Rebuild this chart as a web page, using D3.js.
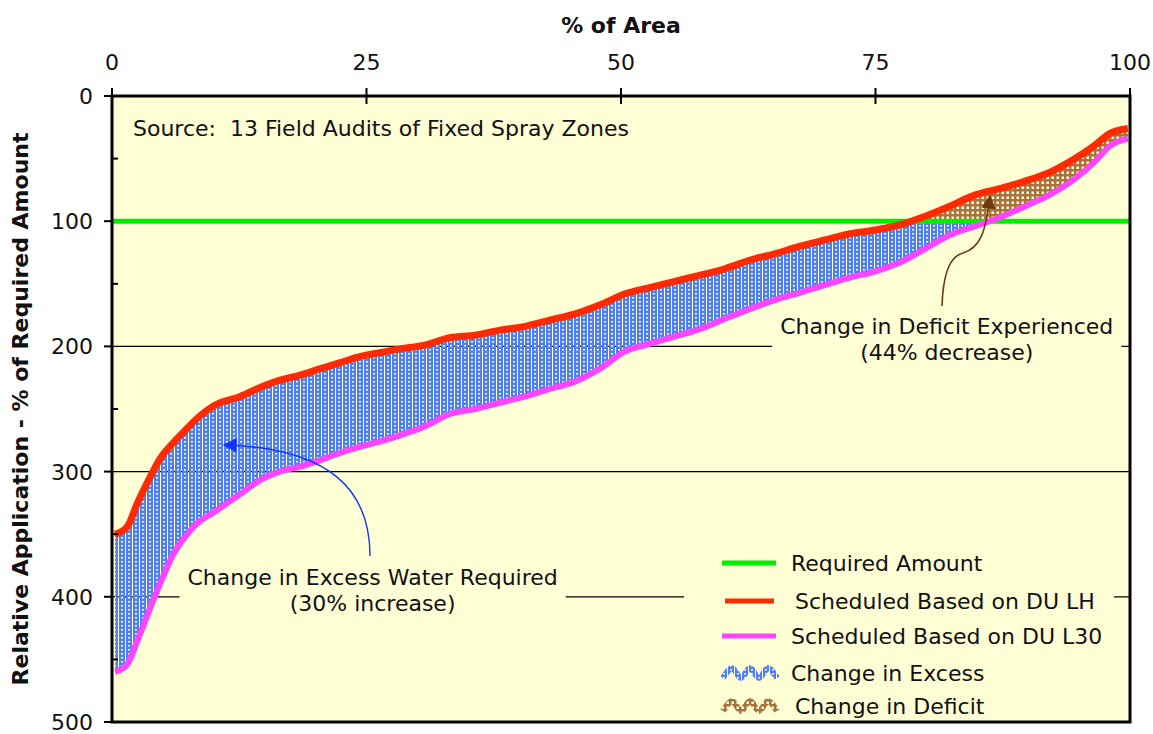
<!DOCTYPE html>
<html>
<head>
<meta charset="utf-8">
<script src="https://cdn.jsdelivr.net/npm/d3@7"></script>
<style>
  body { margin: 0; background: #ffffff; }
  text { font-family: "DejaVu Sans", Verdana, sans-serif; fill: #111; white-space: pre; }
</style>
</head>
<body>
<div id="chart"></div>
<script>
// % of area (x) - shared by both series
var areaPct = [0.3, 1.5, 2.5, 3.7, 4.7, 5.9, 7.2, 8.3, 10.1, 12.6, 14.5, 16.5, 18.5, 20.4, 22.4, 24.4,
  26.3, 28.3, 30.7, 33.2, 35.7, 38.1, 40.6, 43.0, 45.5, 47.9, 50.4, 52.8, 55.3, 57.8, 60.2, 62.7,
  65.1, 67.6, 70.0, 72.5, 75.0, 77.4, 79.9, 82.3, 84.8, 87.2, 89.7, 92.1, 94.6, 96.6, 98.0, 99.8];

// relative application, scheduled on DU LH
var lhValues = [350, 344, 325, 305, 290, 278, 267, 258, 247, 240, 233, 227, 223, 218, 213, 208,
  205, 202, 199, 193, 191, 187, 184, 179, 174, 167, 158, 153, 148, 143, 138, 131,
  126, 120, 115, 110, 107, 103, 96, 88, 79, 74, 68, 61, 50, 39, 30, 26];

// relative application, scheduled on DU L30
var l30Values = [460, 454, 435, 410, 390, 368, 352, 342, 332, 318, 307, 300, 296, 291, 285, 280,
  276, 271, 264, 254, 250, 245, 240, 234, 228, 218, 204, 198, 192, 186, 178, 170,
  163, 157, 151, 145, 140, 133, 122, 111, 104, 97, 88, 79, 66, 52, 40, 34];

var requiredAmount = 100;
var xTicks = [0, 25, 50, 75, 100];
var yTicks = [0, 100, 200, 300, 400, 500];
var yMinorTicks = [50, 150, 250, 350, 450];
var gridValues = [100, 200, 300, 400];
var legendLabels = ['Required Amount', 'Scheduled Based on DU LH', 'Scheduled Based on DU L30',
  'Change in Excess', 'Change in Deficit'];

var W = 1153, H = 734;
var pLeft = 112, pRight = 1130, pTop = 96, pBottom = 722;
var bg = '#ffffd5';
var cRed = '#ff2a00', cMag = '#ff44ff', cGreen = '#00f000';
var cBlue = '#5080f0', cBrown = '#a8743c';
var fontSize = 22;

var svg = d3.select('#chart').append('svg').attr('width', W).attr('height', H);

var x = d3.scaleLinear().domain([0, 100]).range([pLeft, pRight]);
var y = d3.scaleLinear().domain([0, 500]).range([pTop, pBottom]);

var defs = svg.append('defs');

// dotted fills like the excel pattern
var pBlue = defs.append('pattern').attr('id', 'pBlue').attr('patternUnits', 'userSpaceOnUse')
  .attr('width', 7).attr('height', 4);
pBlue.append('rect').attr('width', 6).attr('height', 4).attr('fill', cBlue);
pBlue.append('rect').attr('x', 2).attr('y', 1).attr('width', 2).attr('height', 1.5).attr('fill', '#ffffff');

var pBrown = defs.append('pattern').attr('id', 'pBrown').attr('patternUnits', 'userSpaceOnUse')
  .attr('width', 5).attr('height', 5);
pBrown.append('rect').attr('width', 5).attr('height', 5).attr('fill', cBrown);
pBrown.append('rect').attr('x', 1.5).attr('y', 1.5).attr('width', 2.5).attr('height', 2.5).attr('fill', '#fffbe0');

defs.append('clipPath').attr('id', 'clipExcess').append('rect')
  .attr('x', pLeft).attr('y', y(requiredAmount)).attr('width', pRight - pLeft).attr('height', pBottom - y(requiredAmount));
defs.append('clipPath').attr('id', 'clipDeficit').append('rect')
  .attr('x', pLeft).attr('y', pTop).attr('width', pRight - pLeft).attr('height', y(requiredAmount) - pTop);

function arrowMarker(id, col, w, h) {
  defs.append('marker').attr('id', id).attr('viewBox', '0 0 10 10')
    .attr('refX', 9).attr('refY', 5).attr('markerUnits', 'userSpaceOnUse')
    .attr('markerWidth', w).attr('markerHeight', h).attr('orient', 'auto')
    .append('path').attr('d', 'M0,0 L10,5 L0,10 Z').attr('fill', col);
}
arrowMarker('arrBlue', '#1234ff', 16, 14);
arrowMarker('arrBrown', '#6e3c0c', 16, 14);

// plot background
svg.append('rect').attr('x', pLeft).attr('y', pTop).attr('width', pRight - pLeft).attr('height', pBottom - pTop)
  .attr('fill', bg);

// gridlines
svg.append('g').selectAll('line').data(gridValues).enter().append('line')
  .attr('x1', pLeft).attr('x2', pRight)
  .attr('y1', function(d){ return y(d); }).attr('y2', function(d){ return y(d); })
  .attr('stroke', '#000').attr('stroke-width', 1.3);

// band between the two schedules
var band = d3.area().curve(d3.curveMonotoneX)
  .x(function(d, i){ return x(areaPct[i]); })
  .y0(function(d, i){ return y(lhValues[i]); })
  .y1(function(d, i){ return y(l30Values[i]); });

svg.append('path').datum(areaPct).attr('d', band).attr('fill', 'url(#pBlue)')
  .attr('clip-path', 'url(#clipExcess)');
svg.append('path').datum(areaPct).attr('d', band).attr('fill', 'url(#pBrown)')
  .attr('clip-path', 'url(#clipDeficit)');

// required amount
svg.append('line').attr('x1', pLeft).attr('x2', pRight)
  .attr('y1', y(requiredAmount)).attr('y2', y(requiredAmount))
  .attr('stroke', cGreen).attr('stroke-width', 5);

function seriesLine(vals) {
  return d3.line().curve(d3.curveMonotoneX)
    .x(function(d, i){ return x(areaPct[i]); })
    .y(function(d){ return y(d); })(vals);
}
svg.append('path').attr('d', seriesLine(l30Values)).attr('fill', 'none')
  .attr('stroke', cMag).attr('stroke-width', 6).attr('stroke-linejoin', 'round');
svg.append('path').attr('d', seriesLine(lhValues)).attr('fill', 'none')
  .attr('stroke', cRed).attr('stroke-width', 7).attr('stroke-linejoin', 'round');

// text with a background box so gridlines are hidden behind it
function boxedText(lines, cx, baseY, pad) {
  var g = svg.append('g');
  var r = g.append('rect').attr('fill', bg);
  var t = g.append('text').attr('text-anchor', 'middle').style('font-size', fontSize + 'px');
  lines.forEach(function(s, i){
    t.append('tspan').attr('x', cx).attr('y', baseY + i * 26).text(s);
  });
  var b = t.node().getBBox();
  r.attr('x', b.x - pad).attr('y', b.y - 2).attr('width', b.width + 2 * pad).attr('height', b.height + 4);
}
boxedText(['Change in Excess Water Required', '(30% increase)'], x(25.6), 585, 8);
boxedText(['Change in Deficit Experienced', '(44% decrease)'], x(82.0), 334, 8);

svg.append('text').attr('x', 133).attr('y', 136).style('font-size', fontSize + 'px')
  .text('Source:  13 Field Audits of Fixed Spray Zones');

// annotation arrows
svg.append('path').attr('d', 'M370,556 C370,490 330,448 224,445')
  .attr('fill', 'none').attr('stroke', '#1234ff').attr('stroke-width', 1.4)
  .attr('marker-end', 'url(#arrBlue)');
svg.append('path').attr('d', 'M942,306 C943,275 950,256 963,253 C980,248 986,232 990,196')
  .attr('fill', 'none').attr('stroke', '#6e3c0c').attr('stroke-width', 1.6)
  .attr('marker-end', 'url(#arrBrown)');

// legend
var lg = svg.append('g');
lg.append('rect').attr('x', 684).attr('y', 545).attr('width', 430).attr('height', 174).attr('fill', bg);
var rowY = [563, 601, 636, 673, 706];
var legendStroke = [cGreen, cRed, cMag, 'url(#pBlue)', 'url(#pBrown)'];
var legendTextX = [791, 795, 791, 791, 795];
legendLabels.forEach(function(lab, i){
  if (i < 3) {
    lg.append('line').attr('x1', i == 1 ? 725 : 722).attr('x2', i == 1 ? 774 : 776)
      .attr('y1', rowY[i]).attr('y2', rowY[i])
      .attr('stroke', legendStroke[i]).attr('stroke-width', 5);
  } else {
    var pts = [];
    for (var k = 0; k < 7; k++) {
      pts.push([723 + k * 9, rowY[i] + (k % 2 == 0 ? 5 : -5)]);
    }
    lg.append('path').attr('d', d3.line().curve(d3.curveCardinal)(pts)).attr('fill', 'none')
      .attr('stroke', legendStroke[i]).attr('stroke-width', 6);
  }
  lg.append('text').attr('x', legendTextX[i]).attr('y', rowY[i] + 8)
    .style('font-size', fontSize + 'px').text(lab);
});

// axes frame
svg.append('rect').attr('x', pLeft).attr('y', pTop).attr('width', pRight - pLeft).attr('height', pBottom - pTop)
  .attr('fill', 'none').attr('stroke', '#000').attr('stroke-width', 3);

// y ticks
svg.append('g').selectAll('line').data(yTicks).enter().append('line')
  .attr('x1', pLeft - 8).attr('x2', pLeft)
  .attr('y1', function(d){ return y(d); }).attr('y2', function(d){ return y(d); })
  .attr('stroke', '#000').attr('stroke-width', 2);
svg.append('g').selectAll('line').data(yMinorTicks).enter().append('line')
  .attr('x1', pLeft).attr('x2', pLeft + 6)
  .attr('y1', function(d){ return y(d); }).attr('y2', function(d){ return y(d); })
  .attr('stroke', '#000').attr('stroke-width', 2);
svg.append('g').selectAll('text').data(yTicks).enter().append('text')
  .attr('x', 93).attr('y', function(d){ return y(d) + 8; })
  .attr('text-anchor', 'end').style('font-size', fontSize + 'px')
  .text(function(d){ return d; });

// x ticks on top
svg.append('g').selectAll('line').data(xTicks).enter().append('line')
  .attr('x1', function(d){ return x(d); }).attr('x2', function(d){ return x(d); })
  .attr('y1', pTop - 8).attr('y2', pTop + 8)
  .attr('stroke', '#000').attr('stroke-width', 2);
svg.append('g').selectAll('text').data(xTicks).enter().append('text')
  .attr('x', function(d){ return x(d); }).attr('y', 70)
  .attr('text-anchor', 'middle').style('font-size', fontSize + 'px')
  .text(function(d){ return d; });

// titles
svg.append('text').attr('x', 621).attr('y', 33).attr('text-anchor', 'middle')
  .style('font-size', fontSize + 'px').style('font-weight', 'bold').text('% of Area');
svg.append('text').attr('transform', 'translate(28,409) rotate(-90)').attr('text-anchor', 'middle')
  .style('font-size', fontSize + 'px').style('font-weight', 'bold')
  .text('Relative Application - % of Required Amount');
</script>
</body>
</html>
